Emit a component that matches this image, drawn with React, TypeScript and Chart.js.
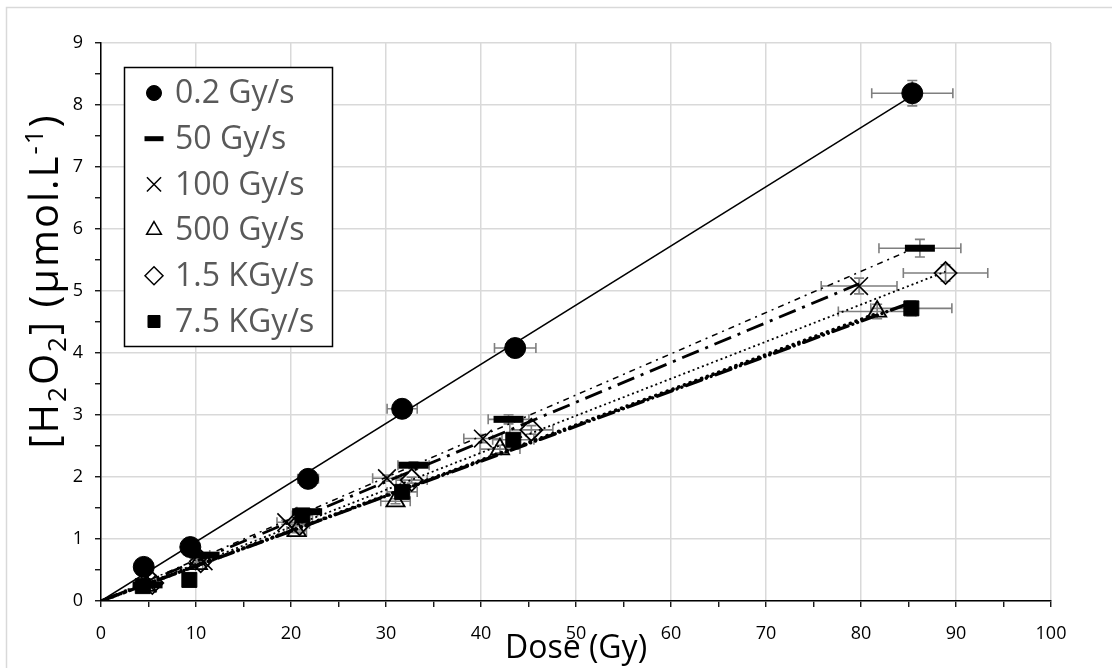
import React, { useEffect, useRef } from 'react';
import { Chart, registerables } from 'chart.js';
import { drawPoint } from 'chart.js/helpers';

Chart.register(...registerables);

// ---------------- DATA ----------------
const SERIES_LABELS = ['0.2 Gy/s', '50 Gy/s', '100 Gy/s', '500 Gy/s', '1.5 KGy/s', '7.5 KGy/s'];

const DOSE_0_2 = [4.5, 9.4, 21.8, 31.7, 43.6, 85.4];
const H2O2_0_2 = [0.55, 0.87, 1.97, 3.10, 4.08, 8.19];

const DOSE_50 = [4.9, 10.9, 21.7, 32.9, 42.9, 86.2];
const H2O2_50 = [0.26, 0.74, 1.44, 2.19, 2.93, 5.69];

const DOSE_100 = [4.9, 10.8, 19.5, 30.1, 40.2, 79.8];
const H2O2_100 = [0.28, 0.64, 1.27, 1.98, 2.62, 5.08];

const DOSE_500 = [4.8, 10.2, 20.6, 31.0, 42.0, 81.7];
const H2O2_500 = [0.25, 0.60, 1.13, 1.61, 2.45, 4.67];

const DOSE_1500 = [5.4, 10.5, 20.9, 32.7, 45.3, 88.9];
const H2O2_1500 = [0.29, 0.64, 1.24, 1.95, 2.76, 5.29];

const DOSE_7500 = [4.4, 9.3, 21.2, 31.7, 43.4, 85.3];
const H2O2_7500 = [0.24, 0.34, 1.38, 1.76, 2.60, 4.72];

const DOSE_ERR_FRACTION = 0.05;
const CONC_ERR_FRACTION = 0.025;

const X_TICK_LABELS = ['0', '10', '20', '30', '40', '50', '60', '70', '80', '90', '100'];
const Y_TICK_LABELS = ['0', '1', '2', '3', '4', '5', '6', '7', '8', '9'];

const SERIES_DOSES = [DOSE_0_2, DOSE_50, DOSE_100, DOSE_500, DOSE_1500, DOSE_7500];
const SERIES_H2O2 = [H2O2_0_2, H2O2_50, H2O2_100, H2O2_500, H2O2_1500, H2O2_7500];

// ---------------- STYLES ----------------
type Style = {
  pointStyle: string;
  radius: number;
  borderWidth: number;
  fill: string;
  legendRadius: number;
  legendBorderWidth: number;
  dash: number[];
  lineWidth: number;
  lineCap: CanvasLineCap;
};

const STYLES: Style[] = [
  { pointStyle: 'circle', radius: 10.5, borderWidth: 1, fill: '#000', legendRadius: 7.5, legendBorderWidth: 1, dash: [], lineWidth: 1.5, lineCap: 'butt' },
  { pointStyle: 'line', radius: 15, borderWidth: 7, fill: '#000', legendRadius: 9.5, legendBorderWidth: 5, dash: [6, 5, 2, 5], lineWidth: 1.5, lineCap: 'butt' },
  { pointStyle: 'crossRot', radius: 12.5, borderWidth: 1.6, fill: 'rgba(0,0,0,0)', legendRadius: 10, legendBorderWidth: 1.5, dash: [18, 7, 3, 7], lineWidth: 2.8, lineCap: 'butt' },
  { pointStyle: 'triangle', radius: 10.5, borderWidth: 1.8, fill: 'rgba(0,0,0,0)', legendRadius: 8.5, legendBorderWidth: 1.5, dash: [0.1, 6], lineWidth: 3.6, lineCap: 'round' },
  { pointStyle: 'rectRot', radius: 11, borderWidth: 1.8, fill: 'rgba(0,0,0,0)', legendRadius: 9, legendBorderWidth: 1.5, dash: [2, 3], lineWidth: 1.8, lineCap: 'butt' },
  { pointStyle: 'rect', radius: 10.6, borderWidth: 1, fill: '#000', legendRadius: 8.5, legendBorderWidth: 1, dash: [16, 5, 0.1, 5, 0.1, 5], lineWidth: 3.4, lineCap: 'round' },
];

const FONT = "'Open Sans', 'DejaVu Sans', sans-serif";

function fitThroughOrigin(xs: number[], ys: number[]) {
  let sxy = 0;
  let sxx = 0;
  xs.forEach((x, i) => {
    sxy += x * ys[i];
    sxx += x * x;
  });
  const slope = sxy / sxx;
  const maxX = Math.max(...xs);
  return [
    { x: 0, y: 0 },
    { x: maxX, y: slope * maxX },
  ];
}

const frame = {
  id: 'frame',
  beforeDraw(chart: any) {
    const ctx = chart.ctx;
    ctx.save();
    ctx.fillStyle = '#fff';
    ctx.fillRect(0, 0, chart.width, chart.height);
    ctx.strokeStyle = '#d9d9d9';
    ctx.lineWidth = 1.5;
    ctx.beginPath();
    ctx.moveTo(6.5, chart.height);
    ctx.lineTo(6.5, 7.5);
    ctx.lineTo(chart.width, 7.5);
    ctx.stroke();
    ctx.restore();
  },
};

const errorBars = {
  id: 'errorBars',
  beforeDatasetsDraw(chart: any) {
    const ctx = chart.ctx;
    const xs = chart.scales.x;
    const ys = chart.scales.y;
    const cap = 5;
    ctx.save();
    ctx.strokeStyle = '#7f7f7f';
    ctx.lineWidth = 1.6;
    SERIES_DOSES.forEach((doses, si) => {
      doses.forEach((d, i) => {
        const c = SERIES_H2O2[si][i];
        const px = xs.getPixelForValue(d);
        const py = ys.getPixelForValue(c);
        const x1 = xs.getPixelForValue(d * (1 - DOSE_ERR_FRACTION));
        const x2 = xs.getPixelForValue(d * (1 + DOSE_ERR_FRACTION));
        const y1 = ys.getPixelForValue(c * (1 - CONC_ERR_FRACTION));
        const y2 = ys.getPixelForValue(c * (1 + CONC_ERR_FRACTION));
        ctx.beginPath();
        ctx.moveTo(x1, py);
        ctx.lineTo(x2, py);
        ctx.moveTo(x1, py - cap);
        ctx.lineTo(x1, py + cap);
        ctx.moveTo(x2, py - cap);
        ctx.lineTo(x2, py + cap);
        ctx.moveTo(px, y1);
        ctx.lineTo(px, y2);
        ctx.moveTo(px - cap, y1);
        ctx.lineTo(px + cap, y1);
        ctx.moveTo(px - cap, y2);
        ctx.lineTo(px + cap, y2);
        ctx.stroke();
      });
    });
    ctx.restore();
  },
};

type Part = { t: string; size: number; dy: number };

function drawParts(ctx: CanvasRenderingContext2D, parts: Part[], cx: number, baseline: number, spacing = 0) {
  (ctx as any).letterSpacing = `${spacing}px`;
  let total = 0;
  parts.forEach((p) => {
    ctx.font = `${p.size}px ${FONT}`;
    total += ctx.measureText(p.t).width;
  });
  let x = cx - total / 2;
  parts.forEach((p) => {
    ctx.font = `${p.size}px ${FONT}`;
    ctx.fillText(p.t, x, baseline + p.dy);
    x += ctx.measureText(p.t).width;
  });
  (ctx as any).letterSpacing = '0px';
}

const annotations = {
  id: 'annotations',
  afterDraw(chart: any) {
    const ctx: CanvasRenderingContext2D = chart.ctx;
    const area = chart.chartArea;
    ctx.save();
    ctx.fillStyle = '#000';
    ctx.textBaseline = 'alphabetic';
    ctx.textAlign = 'left';

    // X title
    drawParts(ctx, [{ t: 'Dose (Gy)', size: 32, dy: 0 }], (area.left + area.right) / 2, 658);

    // Y title (rotated)
    ctx.save();
    ctx.translate(58, 281);
    ctx.rotate(-Math.PI / 2);
    const big = 40;
    const small = 26;
    drawParts(
      ctx,
      [
        { t: '[H', size: big, dy: 0 },
        { t: '2', size: small, dy: 8 },
        { t: 'O', size: big, dy: 0 },
        { t: '2', size: small, dy: 8 },
        { t: '] (µmol.L', size: big, dy: 0 },
        { t: '-1', size: small, dy: -15 },
        { t: ')', size: big, dy: 0 },
      ],
      0,
      0,
      2
    );
    ctx.restore();

    // Legend
    const bx = 124.5;
    const by = 67.5;
    const bw = 208;
    const bh = 279;
    ctx.fillStyle = '#fff';
    ctx.fillRect(bx, by, bw, bh);
    ctx.strokeStyle = '#000';
    ctx.lineWidth = 1.5;
    ctx.strokeRect(bx, by, bw, bh);
    const rowStart = 93;
    const rowGap = 45.7;
    SERIES_LABELS.forEach((label, i) => {
      const st = STYLES[i];
      const y = rowStart + i * rowGap;
      ctx.save();
      ctx.fillStyle = st.fill === 'rgba(0,0,0,0)' ? '#fff' : st.fill;
      ctx.strokeStyle = '#000';
      ctx.lineWidth = st.legendBorderWidth;
      drawPoint(ctx, { pointStyle: st.pointStyle as any, radius: st.legendRadius, rotation: 0, borderWidth: st.legendBorderWidth } as any, 154, y);
      ctx.restore();
      ctx.fillStyle = '#595959';
      ctx.font = `32px ${FONT}`;
      ctx.textBaseline = 'middle';
      ctx.fillText(label, 175, y + 1);
    });
    ctx.restore();
  },
};

export default function App() {
  const ref = useRef<HTMLCanvasElement | null>(null);

  useEffect(() => {
    if (!ref.current) return;
    const datasets: any[] = [];
    SERIES_LABELS.forEach((label, i) => {
      const st = STYLES[i];
      datasets.push({
        type: 'scatter',
        label,
        data: SERIES_DOSES[i].map((x, j) => ({ x, y: SERIES_H2O2[i][j] })),
        pointStyle: st.pointStyle,
        pointRadius: st.radius,
        pointBorderWidth: st.borderWidth,
        pointBackgroundColor: st.fill,
        pointBorderColor: '#000',
        showLine: false,
        order: 1,
      });
    });
    SERIES_LABELS.forEach((label, i) => {
      const st = STYLES[i];
      datasets.push({
        type: 'scatter',
        label: label + ' fit',
        data: fitThroughOrigin(SERIES_DOSES[i], SERIES_H2O2[i]),
        showLine: true,
        pointRadius: 0,
        borderColor: '#000',
        borderWidth: st.lineWidth,
        borderDash: st.dash,
        borderCapStyle: st.lineCap,
        fill: false,
        order: 2,
      });
    });

    const chart = new Chart(ref.current, {
      type: 'scatter',
      data: { datasets },
      options: {
        animation: false,
        responsive: false,
        devicePixelRatio: 1,
        layout: { padding: { top: 43, right: 61, left: 0, bottom: 0 } },
        plugins: { legend: { display: false }, tooltip: { enabled: false } },
        scales: {
          x: {
            type: 'linear',
            min: 0,
            max: 100,
            afterFit: (s: any) => {
              s.height = 67;
            },
            ticks: {
              stepSize: 5,
              autoSkip: false,
              maxRotation: 0,
              padding: 16,
              color: '#000',
              font: { family: FONT, size: 18 },
              callback: (v: any) => {
                const idx = Number(v) / 10;
                return Number.isInteger(idx) ? X_TICK_LABELS[idx] : '';
              },
            },
            grid: {
              color: (c: any) => (c.tick && c.tick.value % 10 === 0 ? '#d9d9d9' : 'rgba(0,0,0,0)'),
              tickColor: '#000',
              lineWidth: 1.5,
              tickLength: 6,
              tickWidth: 1.3,
            },
            border: { color: '#000', width: 1.5 },
          },
          y: {
            type: 'linear',
            min: 0,
            max: 9,
            afterFit: (s: any) => {
              s.width = 101;
            },
            ticks: {
              stepSize: 0.5,
              autoSkip: false,
              padding: 12,
              color: '#000',
              font: { family: FONT, size: 18 },
              callback: (v: any) => {
                const n = Number(v);
                return Number.isInteger(n) ? Y_TICK_LABELS[n] : '';
              },
            },
            grid: {
              color: (c: any) => (c.tick && Number.isInteger(c.tick.value) ? '#d9d9d9' : 'rgba(0,0,0,0)'),
              tickColor: '#000',
              lineWidth: 1.5,
              tickLength: 6,
              tickWidth: 1.3,
            },
            border: { color: '#000', width: 1.5 },
          },
        },
      },
      plugins: [frame, errorBars, annotations],
    });
    return () => chart.destroy();
  }, []);

  return (
    <div style={{ position: 'absolute', left: 0, top: 0, width: 1112, height: 668 }}>
      <canvas ref={ref} width={1112} height={668} style={{ width: 1112, height: 668 }} />
    </div>
  );
}
